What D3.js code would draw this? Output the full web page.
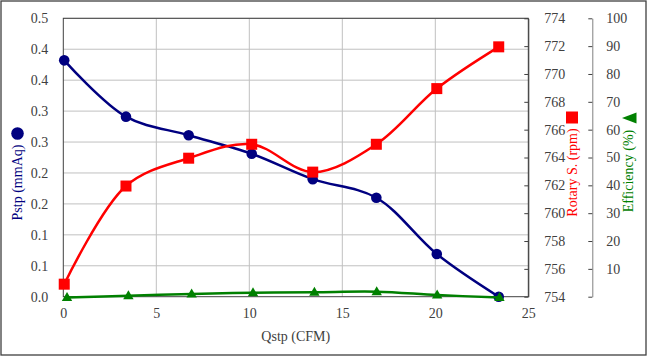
<!DOCTYPE html>
<html><head><meta charset="utf-8">
<script src="https://cdn.jsdelivr.net/npm/d3@7"></script>
<style>
html,body{margin:0;padding:0;background:#fff;}
svg{display:block;}
</style></head>
<body>
<script>
// ---- data ----
const qstp = [0.05, 3.37, 6.74, 10.13, 13.41, 16.83, 20.08, 23.41];
const pstp = [0.382, 0.291, 0.261, 0.231, 0.190, 0.160, 0.069, 0.0];
const rpm = [754.9, 761.95, 763.95, 764.95, 762.95, 764.95, 768.95, 771.95];
const effQ = [0.2, 3.5, 6.9, 10.2, 13.5, 16.85, 20.1, 23.45];
const eff = [-0.3, 0.3, 1.0, 1.4, 1.6, 1.8, 0.6, -0.3];
const xTicks = [0, 5, 10, 15, 20, 25];
const pTicks = [0, 0.05, 0.10, 0.15, 0.20, 0.25, 0.30, 0.35, 0.40, 0.45];
const pTickLabels = ["0.0","0.1","0.1","0.2","0.2","0.3","0.3","0.4","0.4","0.5"];
const rTicks = [754, 756, 758, 760, 762, 764, 766, 768, 770, 772, 774];
const eTicks = [0, 10, 20, 30, 40, 50, 60, 70, 80, 90, 100];
const xTitle = "Qstp (CFM)";
const pTitle = "Pstp (mmAq)";
const rTitle = "Rotary S. (rpm)";
const eTitle = "Efficiency (%)";

const FONT = "Liberation Serif, DejaVu Serif, Times New Roman, serif";
const W = 647, H = 356;
const L = 63.3, T = 18.3, R = 528.3, B = 296.7;
const EX = 592.3;
const axisCol = "#404040", gridCol = "#c0c0c0", labCol = "#404040";
const blue = "#000080", red = "#ff0000", green = "#008000";

const svg = d3.select("body").append("svg").attr("width", W).attr("height", H)
  .attr("font-family", FONT);

// outer border
svg.append("rect").attr("x", 1).attr("y", 1).attr("width", 645).attr("height", 354)
  .attr("fill", "none").attr("stroke", "#404040").attr("stroke-width", 1.3);

const x = d3.scaleLinear().domain([0, 25]).range([L, R]);
const yP = d3.scaleLinear().domain([0, 0.45]).range([B, T]);
const yR = d3.scaleLinear().domain([754, 774]).range([B, T]);
const yE = d3.scaleLinear().domain([0, 100]).range([B, T]);

// gridlines
const g = svg.append("g");
g.selectAll(".hg").data(pTicks.slice(1)).join("line")
  .attr("x1", L).attr("x2", R).attr("y1", d => yP(d)).attr("y2", d => yP(d))
  .attr("stroke", gridCol).attr("stroke-width", 1);
g.selectAll(".vg").data(xTicks.slice(1, -1)).join("line")
  .attr("y1", T).attr("y2", B).attr("x1", d => x(d)).attr("x2", d => x(d))
  .attr("stroke", gridCol).attr("stroke-width", 1);

// plot frame
svg.append("rect").attr("x", L).attr("y", T).attr("width", R - L).attr("height", B - T)
  .attr("fill", "none").attr("stroke", axisCol).attr("stroke-width", 1);

function styleAxis(sel) {
  sel.attr("font-family", FONT).attr("font-size", 14);
  sel.selectAll("text").attr("fill", labCol);
  sel.select(".domain").attr("stroke", axisCol);
  sel.selectAll(".tick line").attr("stroke", axisCol);
}

// x axis
const xa = svg.append("g").attr("transform", `translate(0,${B})`)
  .call(d3.axisBottom(x).tickValues(xTicks).tickSize(0).tickPadding(11).tickFormat(d3.format("d")));
styleAxis(xa);
xa.select(".domain").remove();

// left axis
const la = svg.append("g").attr("transform", `translate(${L},0)`)
  .call(d3.axisLeft(yP).tickValues(pTicks).tickSize(0).tickPadding(15)
    .tickFormat((d, i) => pTickLabels[i]));
styleAxis(la);
la.select(".domain").remove();

// right rpm axis (ticks inside)
const ra = svg.append("g").attr("transform", `translate(${R},0)`)
  .call(d3.axisRight(yR).tickValues(rTicks).tickSizeInner(-4).tickSizeOuter(0).tickPadding(16)
    .tickFormat(d3.format("d")));
styleAxis(ra);

// efficiency axis
const ea = svg.append("g").attr("transform", `translate(${EX},0)`)
  .call(d3.axisRight(yE).tickValues(eTicks).tickSizeInner(-4).tickSizeOuter(0).tickPadding(14)
    .tickFormat(d => d === 0 ? "" : d3.format("d")(d)));
styleAxis(ea);
ea.select(".domain").attr("stroke", "#808080");

// series
const curve = d3.curveCatmullRom.alpha(0.5);
const pData = qstp.map((q, i) => [q, pstp[i]]);
const rData = qstp.map((q, i) => [q, rpm[i]]);
const eData = effQ.map((q, i) => [q, eff[i]]);

svg.append("path").datum(pData)
  .attr("d", d3.line().x(d => x(d[0])).y(d => yP(d[1])).curve(curve))
  .attr("fill", "none").attr("stroke", blue).attr("stroke-width", 2.5);
svg.selectAll(".pm").data(pData).join("circle")
  .attr("cx", d => x(d[0])).attr("cy", d => yP(d[1])).attr("r", 5.3).attr("fill", blue);

svg.append("path").datum(rData)
  .attr("d", d3.line().x(d => x(d[0])).y(d => yR(d[1])).curve(curve))
  .attr("fill", "none").attr("stroke", red).attr("stroke-width", 2.5);
svg.selectAll(".rm").data(rData).join("rect")
  .attr("x", d => x(d[0]) - 5.5).attr("y", d => yR(d[1]) - 5.5)
  .attr("width", 11).attr("height", 11).attr("fill", red);

svg.append("path").datum(eData)
  .attr("d", d3.line().x(d => x(d[0])).y(d => yE(d[1])).curve(curve))
  .attr("fill", "none").attr("stroke", green).attr("stroke-width", 2.5);
svg.selectAll(".em").data(eData).join("path")
  .attr("transform", d => `translate(${x(d[0])},${yE(d[1])})`)
  .attr("d", "M0,-5.5L5.2,3.5L-5.2,3.5Z").attr("fill", green);

// titles
svg.append("text").attr("x", (L + R) / 2).attr("y", 341).attr("text-anchor", "middle")
  .attr("fill", labCol).attr("font-size", 14).text(xTitle);

svg.append("text").attr("transform", "translate(22,182.5) rotate(-90)")
  .attr("text-anchor", "middle").attr("fill", blue).attr("font-size", 14).text(pTitle);
svg.append("circle").attr("cx", 17.5).attr("cy", 133.5).attr("r", 6.3).attr("fill", blue);

svg.append("text").attr("transform", "translate(577,172.5) rotate(-90)")
  .attr("text-anchor", "middle").attr("fill", red).attr("font-size", 14).text(rTitle);
svg.append("rect").attr("x", 566).attr("y", 111.5).attr("width", 12).attr("height", 12).attr("fill", red);

svg.append("text").attr("transform", "translate(633,171) rotate(-90)")
  .attr("text-anchor", "middle").attr("fill", green).attr("font-size", 14).text(eTitle);
svg.append("path").attr("d", "M622,118L636.5,112.5L636.5,123.5Z").attr("fill", green);
</script>
</body></html>
